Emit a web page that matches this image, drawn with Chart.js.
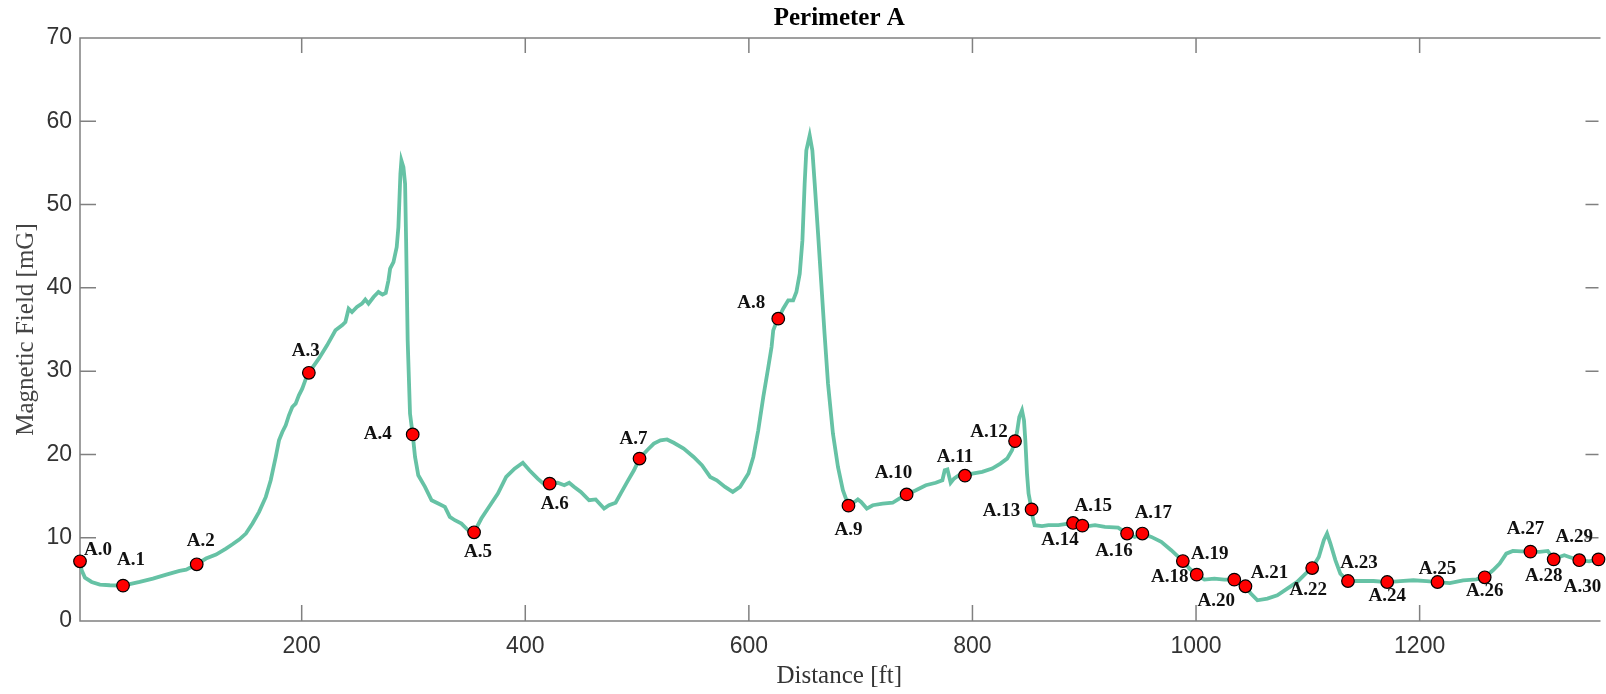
<!DOCTYPE html>
<html>
<head>
<meta charset="utf-8">
<title>Perimeter A</title>
<script src="https://cdn.jsdelivr.net/npm/chart.js@4.4.1/dist/chart.umd.min.js"></script>
<style>
  html, body { margin: 0; padding: 0; background: #fff; overflow: hidden; }
  #wrap { width: 1606px; height: 694px; }
</style>
</head>
<body>
<div id="wrap"><canvas id="perimeter-chart" width="1606" height="694"></canvas></div>
<script>
// measured trace, distance in ft / field in mG
var distance = [
    1.7, 3.2, 6.1, 12.1, 19.5, 28.4, 40.2, 55.1, 66.9, 78.9,
    90.7, 96.7, 106.1, 114.4, 123.4, 132.3, 138.1, 144.1, 150.1, 156,
    161.9, 167.9, 172.3, 176.8, 179.7, 182.7, 185.7, 188.6, 191.6, 194.6,
    197.5, 200.5, 203.5, 206.4, 215.3, 222.7, 230.2, 236.1, 239.1, 242,
    245, 249.4, 253.9, 256.9, 259.8, 264.3, 268.7, 272.3, 275.2, 277.6,
    279.1, 282.1, 285, 286.5, 287.4, 288.3, 289.2, 291, 292.5, 293.4,
    294.8, 296.9, 299.3, 301.4, 304.3, 310.3, 316.2, 322.1, 328.1, 332.5,
    337, 342.9, 348.8, 354.2, 360.7, 366.6, 375.5, 382.9, 390.4, 397.8,
    403.7, 411.1, 417.1, 421.8, 428.9, 434.9, 439.3, 443.8, 449.7, 457.1,
    463, 470.5, 474.9, 480.8, 485.3, 491.2, 497.2, 502.2, 509, 515,
    520.9, 526.8, 532.8, 541.7, 550.6, 558, 565.4, 571.3, 578.7, 585.6,
    592.1, 599.6, 604, 608.4, 612.9, 617.4, 620.3, 621.8, 624.1, 626.3,
    630.7, 635.2, 639.6, 642.5, 645.5, 647.9, 649.9, 651.4, 654.4, 656.8,
    658.9, 661.9, 664.8, 667.7, 670.8, 675.2, 679.7, 684.1, 689.1, 694.5,
    697.5, 700.4, 705.5, 710.8, 719.7, 728.6, 734.5, 741.1, 749.4, 758.3,
    767.2, 773.1, 775.2, 777.6, 780.5, 783.5, 787.9, 793.3, 799.8, 808.7,
    817.6, 825, 831, 835.4, 838.1, 839.9, 841.9, 844.3, 846.1, 847.3,
    848.8, 850.2, 852.9, 853.8, 855.6, 862.2, 868, 876.9, 885.8, 890,
    898.3, 903.6, 909.6, 918.5, 930.3, 938.3, 945.2, 952, 960, 968.9,
    977.8, 988.2, 994.1, 1000.6, 1007.5, 1016.4, 1025.3, 1034.2, 1044.2, 1049,
    1054.9, 1063.8, 1072.7, 1081.6, 1090.5, 1098, 1103.9, 1109.8, 1114.3, 1117.2,
    1120.2, 1124.7, 1129.1, 1135.9, 1147, 1158.8, 1171, 1182.6, 1194.4, 1206.3,
    1216, 1227, 1238.9, 1250.7, 1258.2, 1265.6, 1271.6, 1277.5, 1283.4, 1290.8,
    1299.1, 1307.2, 1314.6, 1319.9, 1324.9, 1329.4, 1333.8, 1342.8, 1351.6, 1360
];
var field = [
    7.17, 6.09, 5.21, 4.69, 4.37, 4.29, 4.25, 4.69, 5.09, 5.57,
    6.01, 6.17, 6.81, 7.5, 7.97, 8.7, 9.21, 9.78, 10.5, 11.7,
    13.1, 14.9, 16.9, 19.7, 21.7, 22.7, 23.5, 24.7, 25.7, 26.1,
    27.1, 27.9, 29.0, 29.8, 31.5, 33.1, 34.9, 35.5, 35.9, 37.5,
    37.1, 37.7, 38.1, 38.6, 38.1, 38.9, 39.5, 39.2, 39.4, 40.9,
    42.3, 43.1, 44.9, 47.3, 50.5, 53.7, 55.3, 54.5, 52.5, 45.7,
    33.7, 24.9, 22.4, 19.7, 17.5, 16.1, 14.5, 14.1, 13.7, 12.5,
    12.1, 11.7, 10.9, 10.65, 12.3, 13.5, 15.3, 17.3, 18.3, 19.0,
    18.1, 17.1, 16.4, 16.5, 16.6, 16.3, 16.6, 16.1, 15.5, 14.5,
    14.6, 13.5, 13.9, 14.2, 15.3, 16.7, 18.1, 19.5, 20.5, 21.3,
    21.7, 21.8, 21.4, 20.7, 19.7, 18.7, 17.3, 16.9, 16.1, 15.5,
    16.1, 17.7, 19.7, 22.9, 26.9, 30.5, 32.9, 34.9, 35.7, 36.3,
    37.5, 38.5, 38.5, 39.5, 41.7, 45.7, 52.5, 56.5, 58.3, 56.5,
    52.5, 46.5, 40.5, 34.5, 28.5, 22.5, 18.5, 15.7, 13.85, 14.3,
    14.6, 14.3, 13.5, 13.9, 14.1, 14.2, 14.7, 15.2, 15.7, 16.3,
    16.6, 16.9, 18.1, 18.2, 16.6, 17.1, 17.5, 17.45, 17.7, 17.9,
    18.3, 18.9, 19.5, 20.5, 21.6, 22.7, 24.5, 25.3, 24.1, 21.7,
    17.7, 15.3, 13.4, 12.5, 11.5, 11.4, 11.5, 11.5, 11.7, 11.77,
    11.45, 11.4, 11.5, 11.3, 11.2, 10.5, 10.1, 10.5, 10.1, 9.5,
    8.5, 7.2, 6.3, 5.57, 4.97, 5.09, 4.97, 4.97, 4.17, 3.29,
    2.49, 2.69, 3.09, 3.89, 4.69, 5.69, 6.36, 7.69, 9.69, 10.5,
    9.3, 7.29, 5.69, 4.8, 4.8, 4.8, 4.68, 4.8, 4.89, 4.8,
    4.68, 4.56, 4.89, 5.01, 5.25, 6.09, 6.89, 8.09, 8.41, 8.37,
    8.33, 8.29, 8.41, 7.4, 7.69, 7.89, 7.69, 7.3, 7.17, 7.4
];

// survey points
var pointNames = ["A.0", "A.1", "A.2", "A.3", "A.4", "A.5", "A.6", "A.7", "A.8", "A.9",
    "A.10", "A.11", "A.12", "A.13", "A.14", "A.15", "A.16", "A.17", "A.18", "A.19",
    "A.20", "A.21", "A.22", "A.23", "A.24", "A.25", "A.26", "A.27", "A.28", "A.29", "A.30"];
var pointDistance = [1.7, 40.2, 106.1, 206.4, 299.3, 354.2, 421.8, 502.2, 626.3, 689.1,
    741.1, 793.3, 838.1, 852.9, 890, 898.3, 938.3, 952, 988.2, 1000.6,
    1034.2, 1044.2, 1103.9, 1135.9, 1171, 1216, 1258.2, 1299.1, 1319.9, 1342.8, 1360];
var pointField = [7.17, 4.25, 6.81, 29.8, 22.4, 10.65, 16.5, 19.5, 36.3, 13.85,
    15.2, 17.45, 21.6, 13.4, 11.77, 11.45, 10.5, 10.5, 7.2, 5.57,
    4.97, 4.17, 6.36, 4.8, 4.68, 4.68, 5.25, 8.33, 7.4, 7.3, 7.4];

var xTicks = [200, 400, 600, 800, 1000, 1200];
var yTicks = [0, 10, 20, 30, 40, 50, 60, 70];

// where each name sits relative to its dot (px)
var nameOffset = [[18, -11], [8, -26], [4, -23], [-3, -22], [-35, 0], [4, 20], [5, 21], [-6, -19], [-27, -16], [0, 24],
    [-13, -21], [-10, -19], [-26, -9], [-30, 2], [-13, 17], [11, -20], [-13, 18], [11, -20], [-13, 16], [13, -21],
    [-18, 21], [24, -13], [-4, 22], [11, -18], [0, 14], [0, -13], [0, 14], [-5, -23], [-10, 17], [-5, -23], [-16, 28]];

function $each(arr, fn) {
    for (var i = 0; i < arr.length; i++) fn(i, arr[i]);
}

var traceData = [];
$each(distance, function (i, d) { traceData.push({ x: d, y: field[i] }); });
var pointData = [];
$each(pointDistance, function (i, d) { pointData.push({ x: d, y: pointField[i] }); });

var axisColor = "#808080";

var boxPlugin = {
    id: "box",
    beforeDatasetsDraw: function (chart) {
        var ctx = chart.ctx;
        var a = chart.chartArea;
        var xs = chart.scales.x, ys = chart.scales.y;
        ctx.save();
        ctx.strokeStyle = axisColor;
        ctx.lineWidth = 1.5;
        ctx.beginPath();
        ctx.moveTo(a.right + 2, a.top);
        ctx.lineTo(a.left, a.top);
        ctx.lineTo(a.left, a.bottom);
        ctx.lineTo(a.right + 2, a.bottom);
        $each(xTicks, function (i, v) {
            var px = xs.getPixelForValue(v);
            ctx.moveTo(px, a.bottom);
            ctx.lineTo(px, a.bottom - 16);
            ctx.moveTo(px, a.top);
            ctx.lineTo(px, a.top + 15);
        });
        $each(yTicks, function (i, v) {
            var py = ys.getPixelForValue(v);
            ctx.moveTo(a.left, py);
            ctx.lineTo(a.left + 16, py);
            ctx.moveTo(a.right, py);
            ctx.lineTo(a.right - 13, py);
        });
        ctx.stroke();
        ctx.restore();
    },
    afterDatasetsDraw: function (chart) {
        var ctx = chart.ctx;
        var xs = chart.scales.x, ys = chart.scales.y;
        ctx.save();
        ctx.font = "bold 19px 'Liberation Serif', 'Times New Roman', serif";
        ctx.fillStyle = "#111";
        ctx.textAlign = "center";
        ctx.textBaseline = "middle";
        $each(pointNames, function (i, name) {
            var px = xs.getPixelForValue(pointDistance[i]);
            var py = ys.getPixelForValue(pointField[i]);
            ctx.fillText(name, px + nameOffset[i][0], py + nameOffset[i][1]);
        });
        ctx.restore();
    }
};

var context = document.getElementById("perimeter-chart").getContext("2d");
var perimeterChart = new Chart(context, {
    type: "scatter",
    data: {
        datasets: [{
            label: "Survey points",
            data: pointData,
            pointRadius: 6.3,
            pointBackgroundColor: "#ff0000",
            pointBorderColor: "#000000",
            pointBorderWidth: 1.2,
            showLine: false,
            clip: false,
            order: 0
        },
        {
            label: "Magnetic field",
            data: traceData,
            showLine: true,
            borderColor: "#66c2a5",
            borderWidth: 3.8,
            pointRadius: 0,
            tension: 0,
            fill: false,
            order: 1
        }]
    },
    options: {
        responsive: false,
        animation: false,
        layout: { padding: { left: 0, right: 0, top: 0, bottom: 0 } },
        plugins: {
            legend: { display: false },
            tooltip: { enabled: false },
            title: {
                display: true,
                text: "Perimeter A",
                fullSize: false,
                color: "#000",
                font: { family: "'Liberation Serif', 'Times New Roman', serif", size: 25, weight: "bold" },
                padding: { top: 4, bottom: 4 }
            }
        },
        scales: {
            x: {
                type: "linear",
                min: 1.7,
                max: 1360,
                afterBuildTicks: function (scale) {
                    scale.ticks = xTicks.map(function (v) { return { value: v }; });
                },
                afterFit: function (scale) { scale.height = 73; },
                grid: { display: false, drawTicks: false },
                border: { display: false },
                ticks: {
                    color: "#333",
                    padding: 12,
                    maxRotation: 0,
                    callback: function (v) { return String(v); },
                    font: { family: "'Liberation Sans', Arial, sans-serif", size: 23 }
                },
                title: {
                    display: true,
                    text: "Distance [ft]",
                    color: "#333",
                    font: { family: "'Liberation Serif', 'Times New Roman', serif", size: 25 },
                    padding: { top: 0, bottom: 3 }
                }
            },
            y: {
                min: 0,
                max: 70,
                afterBuildTicks: function (scale) {
                    scale.ticks = yTicks.map(function (v) { return { value: v }; });
                },
                afterFit: function (scale) { scale.width = 80; },
                grid: { display: false, drawTicks: false },
                border: { display: false },
                ticks: {
                    color: "#333",
                    padding: 8,
                    callback: function (v) { return String(v); },
                    font: { family: "'Liberation Sans', Arial, sans-serif", size: 23 }
                },
                title: {
                    display: true,
                    text: "Magnetic Field [mG]",
                    color: "#444",
                    font: { family: "'Liberation Serif', 'Times New Roman', serif", size: 25 },
                    padding: { top: 11, bottom: 0 }
                }
            }
        }
    },
    plugins: [boxPlugin]
});
</script>
</body>
</html>
